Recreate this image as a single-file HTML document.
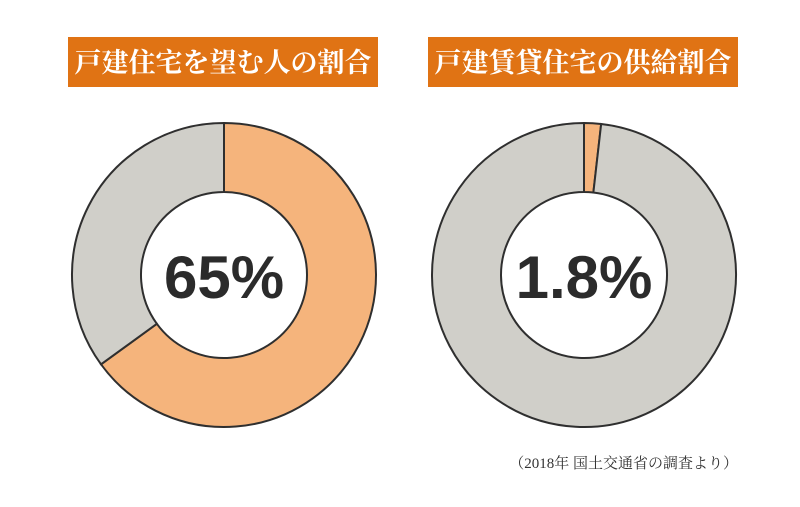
<!DOCTYPE html>
<html><head><meta charset="utf-8">
<style>
body{margin:0;background:#fff;width:800px;height:507px;overflow:hidden}
svg{display:block}
</style></head>
<body>
<svg width="800" height="507" viewBox="0 0 800 507">
<g id="charts"></g>
<text x="738" y="468" text-anchor="end" font-family="'Liberation Serif','Noto Serif CJK SC',serif" font-size="15" fill="#333">（2018年 国土交通省の調査より）</text>
</svg>
<script>
const titles = ["戸建住宅を望む人の割合", "戸建賃貸住宅の供給割合"];
const values = [65, 1.8];
const labels = ["65%", "1.8%"];
const NS = "http://www.w3.org/2000/svg";
const g = document.getElementById("charts");
const centersX = [224, 584];
const cy = 275, R = 152, r = 83;
function pt(cx, rad, frac){const a = frac*2*Math.PI - Math.PI/2;return [cx+rad*Math.cos(a), cy+rad*Math.sin(a)];}
function arc(cx, f0, f1){
  const large = (f1-f0) > 0.5 ? 1 : 0;
  const [x0,y0]=pt(cx,R,f0),[x1,y1]=pt(cx,R,f1),[x2,y2]=pt(cx,r,f1),[x3,y3]=pt(cx,r,f0);
  return `M${x0},${y0}A${R},${R} 0 ${large} 1 ${x1},${y1}L${x2},${y2}A${r},${r} 0 ${large} 0 ${x3},${y3}Z`;
}
values.forEach((v,i)=>{
  const cx = centersX[i];
  const bx = cx-156;
  const rect = document.createElementNS(NS,"rect");
  
  
  rect.setAttribute("x",bx);rect.setAttribute("y",37);rect.setAttribute("width",310);rect.setAttribute("height",50);rect.setAttribute("fill","#e07314");
  g.appendChild(rect);
  const t = document.createElementNS(NS,"text");
  
  
  t.setAttribute("x",cx-1);t.setAttribute("y",72);t.setAttribute("text-anchor","middle");
  t.setAttribute("font-family","'Liberation Serif','Noto Serif CJK SC',serif");t.setAttribute("font-weight","bold");
  t.setAttribute("font-size","27");t.setAttribute("fill","#fff");t.textContent=titles[i];
  g.appendChild(t);
  const f = v/100;
  const s1 = document.createElementNS(NS,"path");
  
  
  s1.setAttribute("d",arc(cx,0,f));s1.setAttribute("fill","#f5b47c");s1.setAttribute("stroke","#2f2f2f");s1.setAttribute("stroke-width","2");
  g.appendChild(s1);
  const s2 = document.createElementNS(NS,"path");
  
  
  s2.setAttribute("d",arc(cx,f,1));s2.setAttribute("fill","#d0cfc9");s2.setAttribute("stroke","#2f2f2f");s2.setAttribute("stroke-width","2");
  g.appendChild(s2);
  const c = document.createElementNS(NS,"text");
  
  
  c.setAttribute("x",cx);c.setAttribute("y",298);c.setAttribute("text-anchor","middle");
  c.setAttribute("font-family","'Liberation Sans',sans-serif");c.setAttribute("font-weight","bold");
  c.setAttribute("font-size","60");c.setAttribute("fill","#2b2b2b");c.textContent=labels[i];
  g.appendChild(c);
});
</script>
</body></html>
